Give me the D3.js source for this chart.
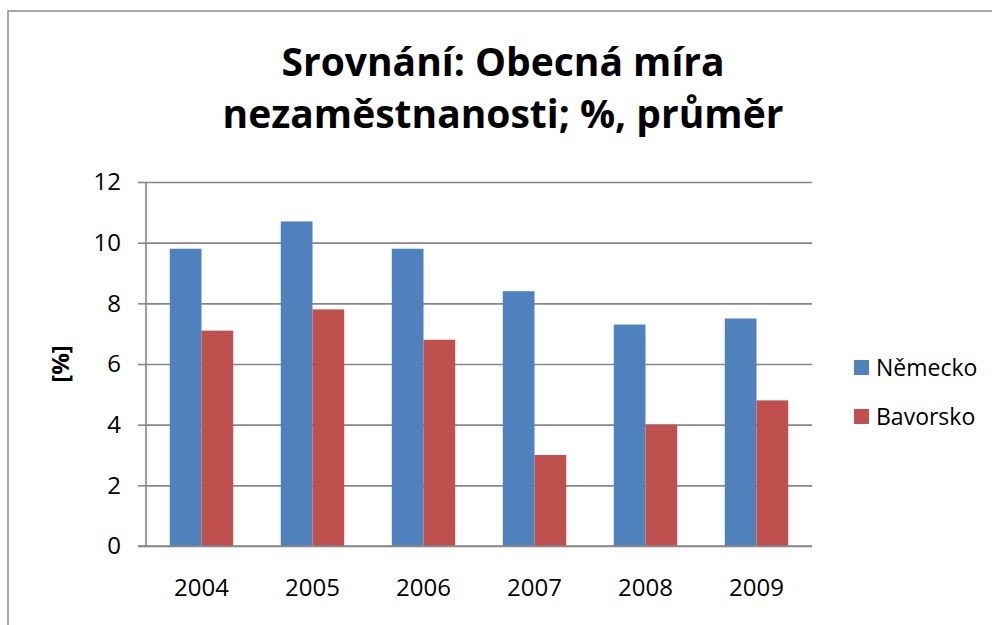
<!DOCTYPE html>
<html>
<head>
<meta charset="utf-8">
<script src="https://cdn.jsdelivr.net/npm/d3@7"></script>
<style>
  body { margin: 0; background: #fff; }
  svg { display: block; font-family: "Open Sans", sans-serif; }
</style>
</head>
<body>
<script>
// data
const years = ["2004", "2005", "2006", "2007", "2008", "2009"];
const seriesNames = ["Německo", "Bavorsko"];
const nemecko = [9.8, 10.7, 9.8, 8.4, 7.3, 7.5];
const bavorsko = [7.1, 7.8, 6.8, 3.0, 4.0, 4.8];
const yTicks = [0, 2, 4, 6, 8, 10, 12];
const titleLines = ["Srovnání: Obecná míra", "nezaměstnanosti; %, průměr"];
const colors = ["#4f81bd", "#c0504d"];

const width = 992, height = 625;
const plot = {left: 146, right: 812, top: 182, bottom: 546};

const svg = d3.select("body").append("svg")
    .attr("width", width)
    .attr("height", height);

// outer frame (runs off the right and bottom edge)
svg.append("rect")
    .attr("x", 8).attr("y", 11)
    .attr("width", 1000).attr("height", 700)
    .attr("fill", "#fff")
    .attr("stroke", "#8c8c8c")
    .attr("stroke-width", 1.5);

const x = d3.scaleBand()
    .domain(years)
    .range([plot.left, plot.right]);

// two bars per category, gap 1.5 bar wide
const x1 = d3.scaleBand()
    .domain(seriesNames)
    .range([0, x.bandwidth() * 2 / 3.5]);

const y = d3.scaleLinear()
    .domain([0, 12])
    .range([plot.bottom, plot.top]);

// gridlines + y axis
const yAxis = g => g
    .attr("transform", `translate(${plot.left},0)`)
    .call(d3.axisLeft(y).tickValues(yTicks).tickSize(8).tickPadding(17))
    .call(g => g.select(".domain").remove())
    .call(g => g.selectAll(".tick line").clone()
        .attr("x1", 0)
        .attr("x2", plot.right - plot.left))
    .call(g => g.selectAll(".tick line")
        .attr("stroke", "#878787")
        .attr("stroke-width", 1.6))
    .call(g => g.selectAll(".tick text")
        .attr("fill", "#000")
        .style("font-size", "24px")
        .style("font-family", "Open Sans"));

svg.append("g").call(yAxis);

// vertical axis line
svg.append("line")
    .attr("x1", plot.left).attr("x2", plot.left)
    .attr("y1", plot.top).attr("y2", plot.bottom)
    .attr("stroke", "#878787")
    .attr("stroke-width", 1.6);

const rows = years.map((yr, i) => ({year: yr, values: [nemecko[i], bavorsko[i]]}));
const offset = (x.bandwidth() - x1.range()[1]) / 2;

svg.append("g")
  .selectAll("g")
  .data(rows)
  .join("g")
    .attr("transform", d => `translate(${x(d.year) + offset},0)`)
  .selectAll("rect")
  .data(d => d.values.map((v, j) => ({name: seriesNames[j], value: v, j})))
  .join("rect")
    .attr("x", d => x1(d.name))
    .attr("y", d => y(d.value))
    .attr("width", x1.bandwidth())
    .attr("height", d => y(0) - y(d.value))
    .attr("fill", d => colors[d.j]);

// x axis labels
const xAxis = g => g
    .attr("transform", `translate(0,${plot.bottom})`)
    .call(d3.axisBottom(x).tickSize(0).tickPadding(33))
    .call(g => g.select(".domain").remove())
    .call(g => g.selectAll(".tick text")
        .attr("fill", "#000")
        .style("font-size", "24px")
        .style("font-family", "Open Sans"));

svg.append("g").call(xAxis);

// bottom axis line on top of the bars
svg.append("line")
    .attr("x1", plot.left - 8).attr("x2", plot.right)
    .attr("y1", plot.bottom).attr("y2", plot.bottom)
    .attr("stroke", "#878787")
    .attr("stroke-width", 1.6);

// y axis title
svg.append("text")
    .attr("transform", "translate(69,364) rotate(-90)")
    .attr("text-anchor", "middle")
    .style("font-size", "24px")
    .style("font-weight", "bold")
    .text("[%]");

// title
svg.append("g")
    .selectAll("text")
    .data(titleLines)
    .join("text")
    .attr("x", 503)
    .attr("y", (d, i) => 76 + i * 52)
    .attr("text-anchor", "middle")
    .style("font-size", "39px")
    .style("font-weight", "bold")
    .text(d => d);

// legend
const legend = svg.append("g")
  .selectAll("g")
  .data(seriesNames)
  .join("g")
    .attr("transform", (d, i) => `translate(854,${360 + i * 49})`);

legend.append("rect")
    .attr("width", 15).attr("height", 15)
    .attr("fill", (d, i) => colors[i]);

legend.append("text")
    .attr("x", 22)
    .attr("y", 16)
    .style("font-size", "23px")
    .text(d => d);
</script>
</body>
</html>
